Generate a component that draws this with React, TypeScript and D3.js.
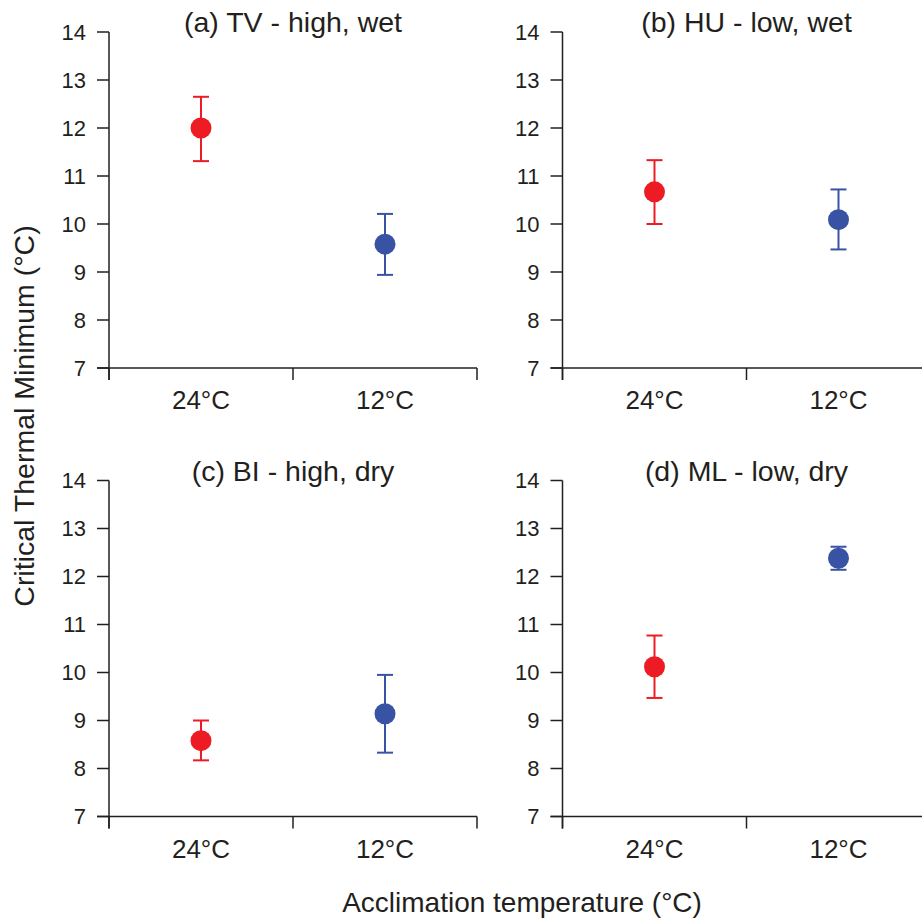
import React from 'react';
import * as d3 from 'd3';

// panel data
const panelTitles = ['(a) TV - high, wet', '(b) HU - low, wet', '(c) BI - high, dry', '(d) ML - low, dry'];
const categories = ['24°C', '12°C'];
const yTicks = [7, 8, 9, 10, 11, 12, 13, 14];

const warmMean = [12.0, 10.67, 8.58, 10.12];
const warmLow = [11.31, 10.0, 8.17, 9.47];
const warmHigh = [12.65, 11.33, 9.0, 10.77];

const coldMean = [9.58, 10.09, 9.14, 12.38];
const coldLow = [8.94, 9.47, 8.33, 12.14];
const coldHigh = [10.21, 10.72, 9.95, 12.62];

const seriesColors = ['#ed1c24', '#3953a4'];

const WIDTH = 922,
      HEIGHT = 919,
      plotW = 368,
      plotH = 336,
      tickLen = 12,
      capHalf = 8,
      dotR = 10.5,
      ink = '#231f20',
      font = '"Liberation Sans", Arial, Helvetica, sans-serif';

const colX = [109, 562.5];
const rowY = [32, 480.5];

const Panel = ({ idx }: { idx: number }) => {
    const x0 = colX[idx % 2];
    const y0 = rowY[Math.floor(idx / 2)];

    const x = d3.scaleBand<string>().domain(categories).range([x0, x0 + plotW]).padding(0);
    const y = d3.scaleLinear().domain([7, 14]).range([y0 + plotH, y0]);

    const bounds = [x0, x0 + x.bandwidth(), x0 + plotW];
    const points = [
        { cat: categories[0], mean: warmMean[idx], lo: warmLow[idx], hi: warmHigh[idx], color: seriesColors[0] },
        { cat: categories[1], mean: coldMean[idx], lo: coldLow[idx], hi: coldHigh[idx], color: seriesColors[1] },
    ];
    const yBase = y(7);

    return (
        <g>
            <text x={x0 + plotW / 2} y={y0} textAnchor="middle" fontSize={28.5} fill={ink}>
                {panelTitles[idx]}
            </text>

            {/* y axis */}
            <line x1={x0} x2={x0} y1={y0} y2={yBase + tickLen} stroke={ink} strokeWidth={1.5} />
            {yTicks.map(t => (
                <g key={t}>
                    <line x1={x0 - tickLen} x2={x0} y1={y(t)} y2={y(t)} stroke={ink} strokeWidth={1.5} />
                    <text x={x0 - 23} y={y(t)} dy="0.35em" textAnchor="end" fontSize={22} fill={ink}>{t}</text>
                </g>
            ))}

            {/* x axis */}
            <line x1={x0 - tickLen} x2={x0 + plotW} y1={yBase} y2={yBase} stroke={ink} strokeWidth={1.5} />
            {bounds.map((b, i) => (
                <line key={i} x1={b} x2={b} y1={yBase} y2={yBase + tickLen} stroke={ink} strokeWidth={1.5} />
            ))}
            {categories.map(c => (
                <text key={c} x={(x(c) ?? 0) + x.bandwidth() / 2} y={yBase + 41} textAnchor="middle" fontSize={26} fill={ink}>
                    {c}
                </text>
            ))}

            {/* error bars and means */}
            {points.map(p => {
                const cx = (x(p.cat) ?? 0) + x.bandwidth() / 2;
                return (
                    <g key={p.cat} stroke={p.color} strokeWidth={2}>
                        <line x1={cx} x2={cx} y1={y(p.hi)} y2={y(p.lo)} />
                        <line x1={cx - capHalf} x2={cx + capHalf} y1={y(p.hi)} y2={y(p.hi)} />
                        <line x1={cx - capHalf} x2={cx + capHalf} y1={y(p.lo)} y2={y(p.lo)} />
                        <circle cx={cx} cy={y(p.mean)} r={dotR} fill={p.color} stroke="none" />
                    </g>
                );
            })}
        </g>
    );
};

const App = () => {
    return (
        <svg width={WIDTH} height={HEIGHT} fontFamily={font}
            style={{ position: 'absolute', left: 0, top: 0, background: '#fff' }}>
            {panelTitles.map((_, i) => <Panel key={i} idx={i} />)}
            <text transform="translate(34,416) rotate(-90)" textAnchor="middle" fontSize={28.5} fill={ink}>
                Critical Thermal Minimum (°C)
            </text>
            <text x={522} y={912} textAnchor="middle" fontSize={28} fill={ink}>
                Acclimation temperature (°C)
            </text>
        </svg>
    );
};

export default App;
